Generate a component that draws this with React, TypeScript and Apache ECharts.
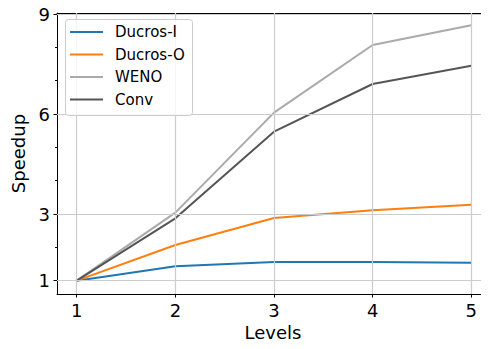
import React, { useEffect, useRef } from "react";
import * as echarts from "echarts";

const levels = [1, 2, 3, 4, 5];
const ducrosI = [1, 1.43, 1.56, 1.56, 1.54];
const ducrosO = [1, 2.07, 2.88, 3.11, 3.28];
const weno = [1, 3.04, 6.04, 8.07, 8.66];
const conv = [1, 2.87, 5.47, 6.9, 7.45];
const seriesNames = ["Ducros-I", "Ducros-O", "WENO", "Conv"];
const seriesColors = ["#1f77b4", "#ff7f0e", "#aaaaaa", "#555555"];
const yMajor = [1, 3, 6, 9];
const yMinor = [2, 4, 5, 7, 8];

const FONT = "DejaVu Sans";

export default function App() {
  const ref = useRef<HTMLDivElement>(null);
  useEffect(() => {
    if (!ref.current) return;
    const chart = echarts.init(ref.current, undefined, { renderer: "svg" });
    const all = [ducrosI, ducrosO, weno, conv];
    const gridMarks = [
      ...yMajor.map((v) => ({ yAxis: v })),
      ...levels.map((v) => ({ xAxis: v })),
    ];
    const legendRows = [32, 54.5, 77, 99.5];
    const legendGraphics: any[] = [
      {
        type: "rect",
        shape: { x: 65.5, y: 19.5, width: 127, height: 96, r: 3 },
        style: { fill: "rgba(255,255,255,0.8)", stroke: "#cccccc", lineWidth: 1 },
        z: 100,
      },
    ];
    seriesNames.forEach((name, i) => {
      legendGraphics.push({
        type: "line",
        shape: { x1: 70, y1: legendRows[i], x2: 103, y2: legendRows[i] },
        style: { stroke: seriesColors[i], lineWidth: 2 },
        z: 101,
      });
      legendGraphics.push({
        type: "text",
        x: 115,
        y: legendRows[i],
        style: {
          text: name,
          fontFamily: FONT,
          fontSize: 15,
          fill: "#000",
          verticalAlign: "middle",
          align: "left",
        },
        z: 101,
      });
    });
    chart.setOption({
      animation: false,
      backgroundColor: "#ffffff",
      grid: { left: 57, right: 0, top: 13, bottom: 55, containLabel: false },
      graphic: legendGraphics,
      xAxis: [
        {
          type: "value",
          min: 0.8,
          max: 5.18,
          name: "Levels",
          nameLocation: "middle",
          nameGap: 27,
          nameTextStyle: { fontFamily: FONT, fontSize: 18, color: "#000" },
          axisLine: { show: true, onZero: false, lineStyle: { color: "#000", width: 1 } },
          axisTick: { show: true, length: 3.5, customValues: levels, lineStyle: { color: "#000" } },
          axisLabel: {
            customValues: levels,
            fontFamily: FONT,
            fontSize: 18,
            color: "#000",
            margin: 7,
          },
          splitLine: { show: false },
        },
        {
          type: "value",
          position: "top",
          min: 0.8,
          max: 5.18,
          axisLine: { show: true, onZero: false, lineStyle: { color: "#000", width: 1 } },
          axisTick: { show: false },
          axisLabel: { show: false },
          splitLine: { show: false },
        },
      ],
      yAxis: [
        {
          type: "value",
          min: 0.6,
          max: 9.03,
          name: "Speedup",
          nameLocation: "middle",
          nameGap: 27,
          nameTextStyle: { fontFamily: FONT, fontSize: 18, color: "#000" },
          axisLine: { show: true, onZero: false, lineStyle: { color: "#000", width: 1 } },
          axisTick: { show: true, length: 3.5, customValues: yMajor, lineStyle: { color: "#000" } },
          axisLabel: {
            customValues: yMajor,
            fontFamily: FONT,
            fontSize: 18,
            color: "#000",
            margin: 7,
          },
          splitLine: { show: false },
        },
        {
          type: "value",
          position: "left",
          min: 0.6,
          max: 9.03,
          axisLine: { show: false },
          axisTick: { show: true, length: 2, customValues: yMinor, lineStyle: { color: "#000" } },
          axisLabel: { show: false },
          splitLine: { show: false },
        },
      ],
      series: [
        {
          name: "grid",
          type: "line",
          data: [],
          z: 1,
          silent: true,
          markLine: {
            silent: true,
            symbol: ["none", "none"],
            label: { show: false },
            lineStyle: { color: "#cccccc", width: 1.2, type: "solid" },
            emphasis: { disabled: true },
            data: gridMarks,
          },
        },
        ...seriesNames.map((name, i) => ({
          name,
          type: "line",
          z: 2,
          symbol: "none",
          color: seriesColors[i],
          lineStyle: { color: seriesColors[i], width: 2 },
          data: levels.map((x, j) => [x, all[i][j]]),
        })),
      ],
    });
    return () => chart.dispose();
  }, []);
  return <div ref={ref} style={{ width: 489, height: 349, margin: -8 }} />;
}
